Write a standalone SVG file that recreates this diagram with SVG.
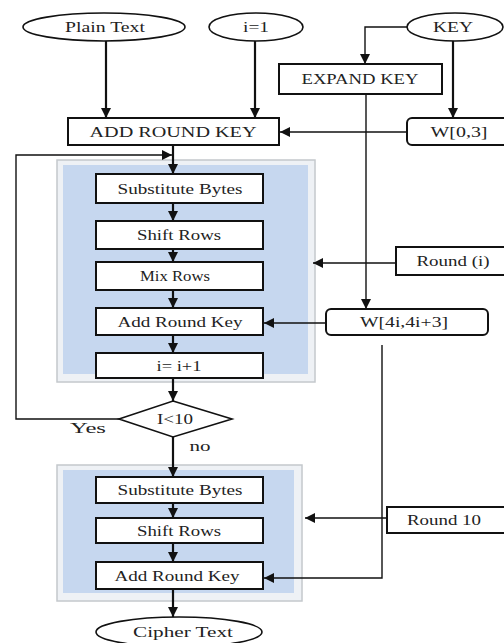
<svg xmlns="http://www.w3.org/2000/svg" width="504" height="643" viewBox="0 0 504 643">
<defs>
<style>
.t{font-family:"Liberation Serif","Times New Roman",serif;font-size:14px;fill:#222;text-anchor:middle;dominant-baseline:central}
.box{fill:#fff;stroke:#111;stroke-width:2}
.ell{fill:#fff;stroke:#111;stroke-width:1.6}
.thk{fill:none;stroke:#111;stroke-width:2.2}
.thn{fill:none;stroke:#111;stroke-width:1.4}
.panel{fill:#c6d7ef}
.frame{fill:#eef1f5;stroke:#c4c8cc;stroke-width:1.5}
</style>
<marker id="ab" viewBox="0 0 10 10" refX="10" refY="5" markerWidth="12" markerHeight="10" orient="auto" markerUnits="userSpaceOnUse">
<path d="M0,0 L10,5 L0,10 z" fill="#111"/>
</marker>
</defs>

<g id="panel1">
<rect class="frame" x="57" y="160" width="258" height="222"/>
<rect class="panel" x="63" y="165" width="245" height="209"/>
</g>
<g id="panel2">
<rect class="frame" x="57" y="465" width="245" height="136"/>
<rect class="panel" x="63" y="470" width="231" height="123"/>
</g>

<g id="connectors">
<path class="thk" d="M106,41 V118" marker-end="url(#ab)"/>
<path class="thk" d="M255,41 V118" marker-end="url(#ab)"/>
<path class="thn" d="M407,27 H365 V64" marker-end="url(#ab)"/>
<path class="thk" d="M453,41 V118" marker-end="url(#ab)"/>
<path class="thn" d="M407,132 H280" marker-end="url(#ab)"/>
<path class="thn" d="M366,94 V309" marker-end="url(#ab)"/>
<path class="thk" d="M173,145 V174" marker-end="url(#ab)"/>
<path class="thn" d="M119,419 H16 V155 H172" marker-end="url(#ab)"/>
<path class="thk" d="M173,203 V221" marker-end="url(#ab)"/>
<path class="thk" d="M173,249 V262" marker-end="url(#ab)"/>
<path class="thk" d="M173,290 V308" marker-end="url(#ab)"/>
<path class="thk" d="M173,335 V353" marker-end="url(#ab)"/>
<path class="thk" d="M173,378 V401" marker-end="url(#ab)"/>
<path class="thk" d="M173,437 V477" marker-end="url(#ab)"/>
<path class="thk" d="M173,503 V518" marker-end="url(#ab)"/>
<path class="thk" d="M173,543 V562" marker-end="url(#ab)"/>
<path class="thk" d="M173,589 V617" marker-end="url(#ab)"/>
<path class="thn" d="M396,263 H313" marker-end="url(#ab)"/>
<path class="thn" d="M326,323 H264" marker-end="url(#ab)"/>
<path class="thn" d="M382,345 V578 H264" marker-end="url(#ab)"/>
<path class="thn" d="M387,518 H305" marker-end="url(#ab)"/>
</g>

<g id="plain-text"><ellipse class="ell" cx="104" cy="27" rx="81" ry="14"/><text class="t" x="105" y="27" textLength="80" lengthAdjust="spacingAndGlyphs">Plain Text</text></g>
<g id="i-eq-1"><ellipse class="ell" cx="256" cy="27" rx="47" ry="14"/><text class="t" x="256" y="27" textLength="26" lengthAdjust="spacingAndGlyphs">i=1</text></g>
<g id="key"><ellipse class="ell" cx="455" cy="27" rx="48" ry="14"/><text class="t" x="453" y="27" textLength="40" lengthAdjust="spacingAndGlyphs">KEY</text></g>
<g id="expand-key"><rect class="box" x="279" y="64" width="163" height="30"/><text class="t" x="360" y="79" textLength="117" lengthAdjust="spacingAndGlyphs">EXPAND KEY</text></g>
<g id="add-round-key-0"><rect class="box" x="68" y="118" width="211" height="27"/><text class="t" x="173" y="132" textLength="167" lengthAdjust="spacingAndGlyphs">ADD  ROUND  KEY</text></g>
<g id="w03"><rect class="box" x="407" y="118" width="110" height="27" rx="5"/><text class="t" x="459" y="132" textLength="57" lengthAdjust="spacingAndGlyphs">W[0,3]</text></g>

<g id="sub-bytes-1"><rect class="box" x="96" y="174" width="167" height="29"/><text class="t" x="180" y="189" textLength="125" lengthAdjust="spacingAndGlyphs">Substitute Bytes</text></g>
<g id="shift-rows-1"><rect class="box" x="96" y="221" width="167" height="28"/><text class="t" x="179" y="235" textLength="84" lengthAdjust="spacingAndGlyphs">Shift Rows</text></g>
<g id="mix-rows"><rect class="box" x="96" y="262" width="167" height="28"/><text class="t" x="175" y="276" textLength="70" lengthAdjust="spacingAndGlyphs">Mix Rows</text></g>
<g id="add-round-key-1"><rect class="box" x="96" y="308" width="167" height="27"/><text class="t" x="180" y="322" textLength="125" lengthAdjust="spacingAndGlyphs">Add Round Key</text></g>
<g id="increment"><rect class="box" x="96" y="353" width="167" height="25"/><text class="t" x="179" y="366" textLength="45" lengthAdjust="spacingAndGlyphs">i= i+1</text></g>
<g id="round-i"><rect class="box" x="396" y="247" width="115" height="28"/><text class="t" x="453" y="261" textLength="73" lengthAdjust="spacingAndGlyphs">Round (i)</text></g>
<g id="w4i"><rect class="box" x="326" y="309" width="162" height="26" rx="5"/><text class="t" x="404" y="322" textLength="88" lengthAdjust="spacingAndGlyphs">W[4i,4i+3]</text></g>

<g id="decision"><path class="ell" d="M173,401 L232,419 L173,437 L119,419 Z"/><text class="t" x="175" y="419" textLength="36" lengthAdjust="spacingAndGlyphs">I&lt;10</text></g>
<text class="t" x="88" y="428" font-size="17" textLength="36" lengthAdjust="spacingAndGlyphs">Yes</text>
<text class="t" x="200" y="446" font-size="17" textLength="21" lengthAdjust="spacingAndGlyphs">no</text>

<g id="sub-bytes-2"><rect class="box" x="96" y="477" width="167" height="26"/><text class="t" x="180" y="490" textLength="125" lengthAdjust="spacingAndGlyphs">Substitute Bytes</text></g>
<g id="shift-rows-2"><rect class="box" x="96" y="518" width="167" height="25"/><text class="t" x="179" y="531" textLength="84" lengthAdjust="spacingAndGlyphs">Shift Rows</text></g>
<g id="add-round-key-2"><rect class="box" x="96" y="562" width="167" height="27"/><text class="t" x="177" y="576" textLength="125" lengthAdjust="spacingAndGlyphs">Add Round Key</text></g>
<g id="round-10"><rect class="box" x="387" y="507" width="125" height="26"/><text class="t" x="444" y="520" textLength="74" lengthAdjust="spacingAndGlyphs">Round 10</text></g>
<g id="cipher-text"><ellipse class="ell" cx="179" cy="632" rx="83" ry="15"/><text class="t" x="183" y="632" textLength="100" lengthAdjust="spacingAndGlyphs">Cipher Text</text></g>
</svg>
